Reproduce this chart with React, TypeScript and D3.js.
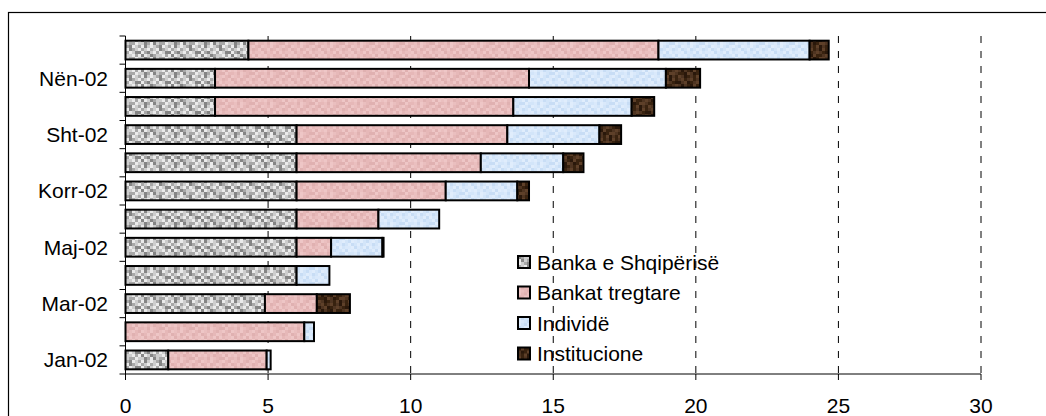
import React from "react";
import * as d3 from "d3";

// Months of 2002 (Albanian abbreviations), bottom to top
const months = ["Jan-02", "Shk-02", "Mar-02", "Pri-02", "Maj-02", "Qer-02", "Korr-02", "Gus-02", "Sht-02", "Tet-02", "Nën-02", "Dhj-02"];
const shownLabels = ["Jan-02", "Mar-02", "Maj-02", "Korr-02", "Sht-02", "Nën-02"];

// Holdings by holder group (billion lek)
const bankaShqiperise = [1.5, 0, 4.89, 6.0, 6.0, 6.0, 6.0, 6.0, 6.0, 3.14, 3.14, 4.31];
const bankatTregtare = [3.45, 6.27, 1.82, 0, 1.21, 2.87, 5.23, 6.46, 7.39, 10.46, 11.01, 14.38];
const individe = [0.14, 0.34, 0, 1.15, 1.8, 2.13, 2.51, 2.89, 3.23, 4.15, 4.8, 5.3];
const institucione = [0, 0, 1.16, 0, 0.04, 0, 0.41, 0.71, 0.76, 0.79, 1.2, 0.67];

const seriesNames = ["Banka e Shqipërisë", "Bankat tregtare", "Individë", "Institucione"];
const xTicks = [0, 5, 10, 15, 20, 25, 30];

// Texture palettes and cell layouts for the bar fills
const palettes: string[][] = [
  ["#ebebeb", "#cdcdcd", "#a8a8a8", "#858585"],
  ["#eec6c6", "#e6b8b8", "#e0b1b1", "#eabfbf"],
  ["#e0edfc", "#d3e5f9", "#c8ddf5", "#dae9fb"],
  ["#4e3421", "#38220f", "#5e4029", "#2a180b"],
];
const textureRows = [
  "0123012031",
  "2103210210",
  "1020133023",
  "3211020301",
  "0312201132",
];

function Texture({ id, palette }: { id: string; palette: string[] }) {
  const cell = 3;
  const w = textureRows[0].length * cell;
  const h = textureRows.length * cell;
  return (
    <pattern id={id} patternUnits="userSpaceOnUse" width={w} height={h}>
      {textureRows.map((row, r) =>
        row.split("").map((c, k) => (
          <rect key={`${r}-${k}`} x={k * cell} y={r * cell} width={cell} height={cell} fill={palette[+c]} />
        ))
      )}
    </pattern>
  );
}

export default function App() {
  const width = 1046;
  const height = 416;
  const left = 125.5;
  const right = 981;
  const top = 36;
  const bottom = 374;

  const x = d3.scaleLinear().domain([0, 30]).range([left, right]);
  const y = d3
    .scaleBand<string>()
    .domain([...months].reverse())
    .range([top, bottom])
    .paddingInner(1 / 3)
    .paddingOuter(1 / 6);

  const rows = months.map((m, i) => ({
    month: m,
    "Banka e Shqipërisë": bankaShqiperise[i],
    "Bankat tregtare": bankatTregtare[i],
    "Individë": individe[i],
    "Institucione": institucione[i],
  }));
  const stacked = d3.stack<any>().keys(seriesNames)(rows);

  const step = y.step();
  const boundaries = d3.range(months.length + 1).map((k) => top + k * step);

  const font = "Arial, 'Liberation Sans', sans-serif";
  const fs = 21;

  return (
    <svg width={width} height={height} style={{ position: "absolute", left: 0, top: 0 }}>
      <defs>
        {palettes.map((p, i) => (
          <Texture key={i} id={`tex${i}`} palette={p} />
        ))}
      </defs>
      <rect x={0} y={0} width={width} height={height} fill="#fff" />
      <rect x={8.5} y={12.5} width={1200} height={600} fill="none" stroke="#000" strokeWidth={1.2} />

      {/* dashed gridlines */}
      {xTicks.filter((t) => t > 0).map((t) => (
        <line key={t} x1={x(t)} x2={x(t)} y1={top} y2={bottom} stroke="#000" strokeWidth={1} strokeDasharray="7 8" />
      ))}

      {/* stacked bars */}
      {stacked.map((s, si) =>
        s.map((d, i) => {
          const w = x(d[1]) - x(d[0]);
          if (w <= 0.01) return null;
          return (
            <rect
              key={`${si}-${i}`}
              x={x(d[0])}
              y={y(months[i])!}
              width={w}
              height={y.bandwidth()}
              fill={`url(#tex${si})`}
              stroke="#000"
              strokeWidth={2}
            />
          );
        })
      )}

      {/* y axis */}
      <line x1={left} x2={left} y1={top} y2={bottom + 6} stroke="#000" strokeWidth={1} />
      {boundaries.map((b, k) => (
        <line key={k} x1={left - 6} x2={left} y1={b} y2={b} stroke="#000" strokeWidth={1} />
      ))}
      {months.map((m) =>
        shownLabels.includes(m) ? (
          <text
            key={m}
            x={108}
            y={y(m)! + y.bandwidth() / 2}
            textAnchor="end"
            dominantBaseline="central"
            fontFamily={font}
            fontSize={fs}
            fill="#000"
          >
            {m}
          </text>
        ) : null
      )}

      {/* x axis */}
      <line x1={left} x2={right} y1={bottom} y2={bottom} stroke="#000" strokeWidth={1} />
      {xTicks.map((t) => (
        <g key={t}>
          <line x1={x(t)} x2={x(t)} y1={bottom} y2={bottom + 6} stroke="#000" strokeWidth={1} />
          <text x={x(t)} y={405} textAnchor="middle" dominantBaseline="central" fontFamily={font} fontSize={fs} fill="#000">
            {t}
          </text>
        </g>
      ))}

      {/* legend */}
      {seriesNames.map((n, i) => (
        <g key={n} transform={`translate(518, ${262 + i * 30.5})`}>
          <rect x={0} y={-6} width={12} height={12} fill={`url(#tex${i})`} stroke="#000" strokeWidth={2} />
          <text x={19} y={0} dominantBaseline="central" fontFamily={font} fontSize={fs} fill="#000">
            {n}
          </text>
        </g>
      ))}
    </svg>
  );
}
